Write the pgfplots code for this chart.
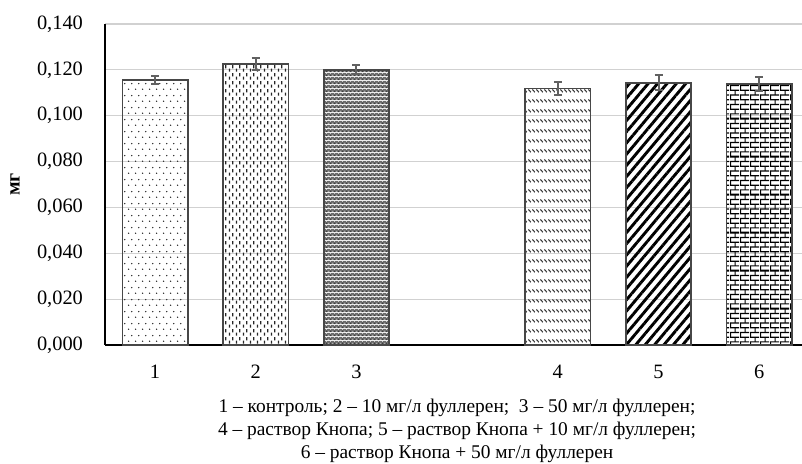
\documentclass[border=0pt]{standalone}
\usepackage{fontspec}
\setmainfont{Liberation Serif}
\usepackage{pgfplots}
\pgfplotsset{compat=1.18}
\usetikzlibrary{patterns,patterns.meta}

\tikzdeclarepattern{
  name=bardots, type=uncolored,
  bounding box={(0pt,0pt) and (3.35pt,6pt)},
  tile size={(3.35pt,6pt)},
  code={\fill (0.8pt,1.5pt) circle (0.4pt); \fill (2.475pt,4.5pt) circle (0.4pt);}
}
\tikzdeclarepattern{
  name=bardash, type=uncolored,
  bounding box={(0pt,0pt) and (3.35pt,4pt)},
  tile size={(3.35pt,4pt)},
  code={\draw[line width=0.65pt] (0.84pt,0.2pt) -- (0.84pt,1.9pt); \draw[line width=0.65pt] (2.5pt,2.1pt) -- (2.5pt,3.8pt);}
}
\tikzdeclarepattern{
  name=bardense, type=colored,
  bounding box={(0pt,0pt) and (2pt,2pt)},
  tile size={(2pt,2pt)},
  code={\fill[black!58] (0pt,0pt) rectangle (2pt,2pt);
        \fill[white] (0.25pt,0.25pt) rectangle (0.75pt,0.75pt);
        \fill[black!20] (1.25pt,1.25pt) rectangle (1.75pt,1.75pt);
        \fill[black!85] (1.25pt,0.25pt) rectangle (1.75pt,0.75pt);}
}
\tikzdeclarepattern{
  name=barslash, type=uncolored,
  bounding box={(0pt,0pt) and (2pt,5pt)},
  tile size={(2pt,5pt)},
  code={\draw[line width=0.6pt] (0.25pt,2.5pt) -- (1.75pt,1.0pt);}
}
\tikzdeclarepattern{
  name=barbricks, type=uncolored,
  bounding box={(0pt,0pt) and (5pt,19.2pt)},
  tile size={(5pt,19.2pt)},
  code={
    \foreach \i in {1,...,7} {\fill (0pt,\i*2.4pt+0.9pt) rectangle (5pt,\i*2.4pt+1.5pt);}
    \fill (0pt,0.65pt) rectangle (5pt,1.75pt);
    \foreach \i in {0,2,4,6} {\fill (0pt,\i*2.4pt+1.2pt) rectangle (0.6pt,\i*2.4pt+3.6pt);}
    \foreach \i in {1,3,5} {\fill (2.5pt,\i*2.4pt+1.2pt) rectangle (3.1pt,\i*2.4pt+3.6pt);}
    \fill (2.5pt,0pt) rectangle (3.1pt,1.2pt);
    \fill (2.5pt,18pt) rectangle (3.1pt,19.2pt);
  }
}

\pgfplotsset{
  mybar/.style={ybar, bar width=0.65, bar shift=0pt, draw=black!72, line width=0.8pt,
    error bars/.cd, y dir=both, y explicit,
    error bar style={line width=1pt, draw=black!62, solid},
    error mark options={rotate=90, mark size=2pt, line width=1pt, draw=black!62},
    /pgfplots/.cd},
}

\begin{document}
\begin{tikzpicture}
\path[use as bounding box] (-52.5pt,-59.5pt) rectangle (348.5pt,172.5pt);
\begin{axis}[
  at={(0pt,0pt)}, anchor=south west,
  scale only axis, width=348.5pt, height=160.5pt,
  xmin=0.503, xmax=7.425, ymin=0, ymax=0.14,
  xtick={1,2,3,5,6,7}, xticklabels={1,2,3,4,5,6},
  ytick={0,0.02,0.04,0.06,0.08,0.1,0.12,0.14},
  tick label style={font=\fontsize{10.2}{12}\selectfont},
  yticklabel style={xshift=-7.5pt, /pgf/number format/.cd, fixed, fixed zerofill, precision=3, use comma, assume math mode=true, /pgfplots/.cd},
  xticklabel style={yshift=-6.5pt},
  major tick length=0pt,
  ymajorgrids, grid style={black!18, line width=0.6pt},
  axis x line*=bottom, axis y line*=left,
  x axis line style={-, line width=1.1pt, black},
  y axis line style={-, line width=0.6pt, black},
  clip=false,
]
\addplot[mybar, pattern=bardots, pattern color=black!85] coordinates {(1,0.1155) +- (0,0.0017)};
\addplot[mybar, pattern=bardash, pattern color=black!85] coordinates {(2,0.1225) +- (0,0.0025)};
\addplot[mybar, pattern=bardense] coordinates {(3,0.1200) +- (0,0.0020)};
\addplot[mybar, pattern=barslash, pattern color=black!80] coordinates {(5,0.1118) +- (0,0.0028)};
\addplot[mybar, pattern={Lines[angle=50, distance=3.6pt, line width=1.45pt]}, pattern color=black] coordinates {(6,0.1143) +- (0,0.0033)};
\addplot[mybar, pattern=barbricks, pattern color=black] coordinates {(7,0.1138) +- (0,0.0032)};
\end{axis}
\node[rotate=90, font=\fontsize{10}{12}\selectfont\bfseries] at (-45pt,80.25pt) {мг};
\node[align=center, font=\fontsize{9.7}{11.4}\selectfont] at (176pt,-43pt)
  {1 – контроль; 2 – 10 мг/л фуллерен;\ \ 3 – 50 мг/л фуллерен;\\
   4 – раствор Кнопа; 5 – раствор Кнопа + 10 мг/л фуллерен;\\
   6 – раствор Кнопа + 50 мг/л фуллерен};
\end{tikzpicture}
\end{document}
